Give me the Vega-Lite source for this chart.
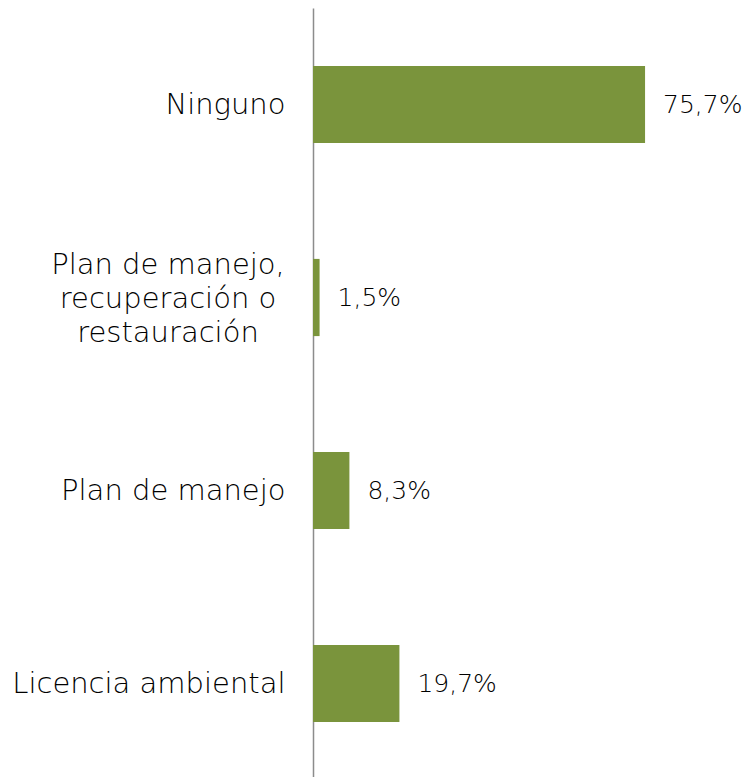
{
  "$schema": "https://vega.github.io/schema/vega-lite/v6.json",
  "autosize": "none",
  "width": 429,
  "height": 772,
  "padding": {"left": 313, "top": 8, "right": 0, "bottom": 0},
  "background": "white",
  "config": {
    "view": {"stroke": null},
    "locale": {"number": {"decimal": ",", "thousands": ".", "grouping": [3], "currency": ["", " €"]}},
    "font": "DejaVu Sans"
  },
  "data": {
    "values": [
      {"category": "Ninguno", "lines": "", "value": 0.757},
      {"category": "Plan de manejo, recuperación o restauración", "lines": "Plan de manejo,\nrecuperación o\nrestauración", "value": 0.015},
      {"category": "Plan de manejo", "lines": "", "value": 0.083},
      {"category": "Licencia ambiental", "lines": "", "value": 0.197}
    ]
  },
  "encoding": {
    "y": {
      "field": "category",
      "type": "nominal",
      "sort": null,
      "scale": {"paddingInner": 0.6, "paddingOuter": 0.3},
      "axis": {
        "title": null,
        "ticks": false,
        "domainColor": "#8c8c8c",
        "domainWidth": 1.5,
        "labelFontSize": 29,
        "labelFontWeight": 300,
        "labelColor": "#000000",
        "labelPadding": 28,
        "labelLimit": 0,
        "labelExpr": "length(datum.label) > 30 ? '' : datum.label"
      }
    }
  },
  "layer": [
    {
      "mark": {"type": "bar", "color": "#7A943C"},
      "encoding": {
        "x": {"field": "value", "type": "quantitative", "scale": {"domain": [0, 0.978], "nice": false}, "axis": null}
      }
    },
    {
      "mark": {"type": "text", "align": "left", "baseline": "middle", "dx": 18, "fontSize": 25, "fontWeight": 300, "color": "#000000"},
      "encoding": {
        "x": {"field": "value", "type": "quantitative"},
        "text": {"field": "value", "type": "quantitative", "format": ".1%"}
      }
    },
    {
      "transform": [{"filter": "datum.lines != ''"}],
      "mark": {"type": "text", "align": "center", "baseline": "middle", "dx": -145, "dy": -33, "fontSize": 29, "fontWeight": 300, "lineHeight": 34, "lineBreak": "\n", "color": "#000000"},
      "encoding": {
        "x": {"datum": 0, "type": "quantitative"},
        "text": {"field": "lines"}
      }
    }
  ]
}
